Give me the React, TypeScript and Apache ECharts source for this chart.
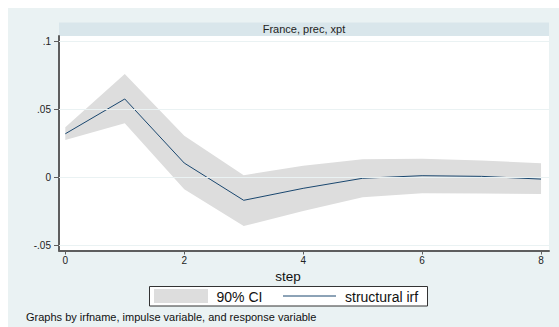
import React, { useEffect, useRef } from "react";
import * as echarts from "echarts";

const steps = [0, 1, 2, 3, 4, 5, 6, 7, 8];
const irf = [0.032, 0.0576, 0.0105, -0.0169, -0.0081, -0.0007, 0.0012, 0.0007, -0.0013];
const ciUpper = [0.0368, 0.076, 0.0306, 0.0016, 0.0085, 0.0132, 0.0136, 0.0124, 0.0103];
const ciLower = [0.0274, 0.0397, -0.0088, -0.0358, -0.0248, -0.0147, -0.0118, -0.0119, -0.0123];
const xTicks = [0, 2, 4, 6, 8];
const yTicks = [-0.05, 0, 0.05, 0.1];
const yTickLabels = ["-.05", "0", ".05", ".1"];
const panelTitle = "France, prec, xpt";
const xTitle = "step";
const legendCI = "90% CI";
const legendIrf = "structural irf";
const note = "Graphs by irfname, impulse variable, and response variable";

const FONT = "'Liberation Sans', Arial, Helvetica, sans-serif";
const NAVY = "#1A476F";
const BAND = "#DDDDDD";
const OUTER = "#EAF2F3";
const STRIP = "#D9E6EB";
const AXIS = "#5E5E5E";

export default function App() {
  const ref = useRef<HTMLDivElement>(null);
  useEffect(() => {
    if (!ref.current) return;
    const chart = echarts.init(ref.current, undefined, { renderer: "svg" });
    const gridLeft = 59;
    const gridRight = 549;
    const gridTop = 36;
    const gridBottom = 250.5;
    const option: any = {
      animation: false,
      backgroundColor: "transparent",
      grid: {
        left: gridLeft,
        top: gridTop,
        width: gridRight - gridLeft,
        height: gridBottom - gridTop,
        show: true,
        backgroundColor: "#ffffff",
        borderWidth: 0,
      },
      xAxis: {
        type: "value",
        min: -0.106,
        max: 8.134,
        axisLine: { show: true, onZero: false, lineStyle: { color: AXIS, width: 2 } },
        axisTick: { show: true, length: 4, customValues: xTicks, lineStyle: { color: AXIS, width: 1 } },
        axisLabel: {
          customValues: xTicks,
          margin: 5,
          fontSize: 10,
          color: "#222",
          fontFamily: FONT,
          formatter: (v: number) => String(v),
        },
        splitLine: { show: false },
      },
      yAxis: {
        type: "value",
        min: -0.0538,
        max: 0.1039,
        axisLine: { show: true, onZero: false, lineStyle: { color: AXIS, width: 2 } },
        axisTick: { show: true, length: 5, customValues: yTicks, lineStyle: { color: AXIS, width: 1 } },
        axisLabel: {
          customValues: yTicks,
          margin: 8,
          fontSize: 10,
          color: "#222",
          fontFamily: FONT,
          formatter: (v: number) => {
            const i = yTicks.findIndex((t) => Math.abs(t - v) < 1e-9);
            return i >= 0 ? yTickLabels[i] : "";
          },
        },
        splitLine: { show: false },
      },
      series: [
        {
          type: "custom",
          name: legendCI,
          silent: true,
          z: 1,
          data: [0],
          renderItem: (_params: any, api: any) => {
            const top = steps.map((s, i) => api.coord([s, ciUpper[i]]));
            const bottom = steps.map((s, i) => api.coord([s, ciLower[i]])).reverse();
            return {
              type: "polygon",
              shape: { points: top.concat(bottom) },
              style: { fill: BAND, stroke: null },
            };
          },
          markLine: {
            silent: true,
            symbol: "none",
            label: { show: false },
            lineStyle: { color: OUTER, width: 1, type: "solid" },
            data: yTicks.map((t) => ({ yAxis: t })),
          },
        },
        {
          type: "line",
          name: legendIrf,
          data: steps.map((s, i) => [s, irf[i]]),
          symbol: "none",
          lineStyle: { color: NAVY, width: 1 },
          silent: true,
          z: 3,
        },
      ],
      graphic: [
        {
          type: "rect",
          shape: { x: gridLeft, y: 22.5, width: gridRight - gridLeft, height: 13.5 },
          style: { fill: STRIP },
          silent: true,
        },
        {
          type: "text",
          x: (gridLeft + gridRight) / 2,
          y: 29,
          style: {
            text: panelTitle,
            fontSize: 11,
            fontFamily: FONT,
            fill: "#222",
            align: "center",
            verticalAlign: "middle",
          },
        },
        {
          type: "text",
          x: 288,
          y: 276,
          style: {
            text: xTitle,
            fontSize: 13.5,
            fontFamily: FONT,
            fill: "#111",
            align: "center",
            verticalAlign: "middle",
          },
        },
        {
          type: "rect",
          shape: { x: 149.5, y: 286.5, width: 278, height: 19.5 },
          style: { fill: "#ffffff", stroke: "#333", lineWidth: 1 },
          silent: true,
        },
        {
          type: "rect",
          shape: { x: 154, y: 289, width: 54, height: 14 },
          style: { fill: BAND },
          silent: true,
        },
        {
          type: "text",
          x: 216.5,
          y: 296.5,
          style: {
            text: legendCI,
            fontSize: 14,
            fontFamily: FONT,
            fill: "#111",
            align: "left",
            verticalAlign: "middle",
          },
        },
        {
          type: "line",
          shape: { x1: 283, y1: 296, x2: 336, y2: 296 },
          style: { stroke: NAVY, lineWidth: 1 },
          silent: true,
        },
        {
          type: "text",
          x: 345,
          y: 296.5,
          style: {
            text: legendIrf,
            fontSize: 14,
            fontFamily: FONT,
            fill: "#111",
            align: "left",
            verticalAlign: "middle",
          },
        },
        {
          type: "text",
          x: 26,
          y: 317,
          style: {
            text: note,
            fontSize: 11,
            fontFamily: FONT,
            fill: "#111",
            align: "left",
            verticalAlign: "middle",
          },
        },
      ],
    };
    chart.setOption(option);
    return () => chart.dispose();
  }, []);

  return (
    <div style={{ position: "absolute", left: 0, top: 0, width: 559, height: 327, background: "#ffffff", overflow: "hidden" }}>
      <div style={{ position: "absolute", left: 8, top: 8, right: 0, bottom: 0, background: OUTER }} />
      <div ref={ref} style={{ position: "absolute", left: 0, top: 0, width: 559, height: 327 }} />
    </div>
  );
}
